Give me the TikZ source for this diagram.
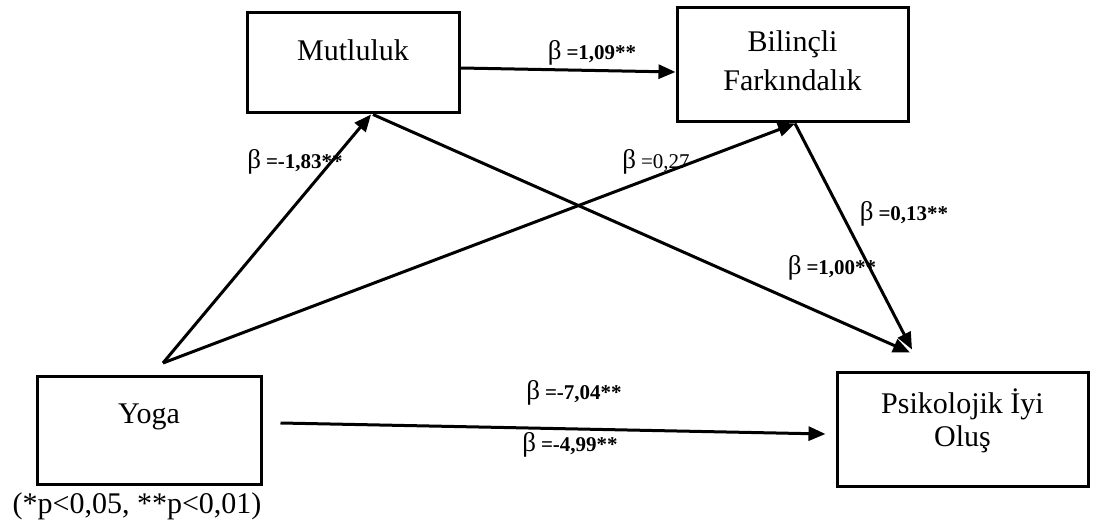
\documentclass[tikz,border=0pt]{standalone}
\usepackage{fontspec}
\setmainfont{Liberation Serif}
\usetikzlibrary{arrows.meta,calc}
\newcommand{\blab}[1]{{\fontsize{13.5}{14}\selectfont β} {\fontsize{10.5}{12}\selectfont\bfseries =#1}}
\newcommand{\blabreg}[1]{{\fontsize{13.5}{14}\selectfont β} {\fontsize{10.5}{12}\selectfont =#1}}
\begin{document}
\begin{tikzpicture}[x=0.5pt,y=-0.5pt,
  box/.style={draw=black, line width=1.5pt, inner sep=0pt},
  boxtext/.style={font=\fontsize{15}{19.5}\selectfont, align=center, inner sep=0pt},
  conn/.style={line width=1.5pt, -{Triangle[length=8.5pt,width=7pt]}},
  lab/.style={inner sep=0pt}]
\useasboundingbox (0,0) rectangle (1094,529);
% boxes
\node[box, minimum width=106pt, minimum height=50pt] (mut) at (353,63) {};
\node[box, minimum width=115.5pt, minimum height=57pt] (bil) at (792.5,65) {};
\node[box, minimum width=112pt, minimum height=54pt] (yoga) at (149,431) {};
\node[box, minimum width=125.5pt, minimum height=57pt] (psi) at (962.5,430) {};
% box texts
\node[boxtext] (mutt) at (353,50) {Mutluluk};
\node[boxtext] (bilt) at (792.5,61) {Bilinçli\\Farkındalık};
\node[boxtext] (yogat) at (149,417) {Yoga};
\node[boxtext, font=\fontsize{15}{16.5}\selectfont] (psit) at (962.5,421) {Psikolojik İyi\\Oluş};
% vertex
\coordinate (yv) at (163,363);
% connectors
\draw[conn] ([yshift=-2.5pt]mut.east) -- ([yshift=-3.5pt]bil.west);
\draw[conn] (yv) -- ([xshift=9pt]mut.south);
\draw[conn] (yv) -- ([xshift=1.25pt]bil.south);
\draw[conn] ([xshift=10pt]mut.south) -- ([shift={(-26.25pt,9.5pt)}]psi.north);
\draw[conn] ([xshift=1.25pt]bil.south) -- ([shift={(-25.25pt,11pt)}]psi.north);
\draw[conn] ([shift={(9pt,4pt)}]yoga.east) -- ([shift={(-5pt,-2pt)}]psi.west);
% labels
\node[lab] (l1) at (592,53) {\blab{1,09**}};
\node[lab] (l2) at (295,162) {\blab{-1,83**}};
\node[lab] (l3) at (656,162) {\blabreg{0,27}};
\node[lab] (l4) at (904,214) {\blab{0,13**}};
\node[lab] (l5) at (832,268) {\blab{1,00**}};
\node[lab] (l6) at (574,393) {\blab{-7,04**}};
\node[lab] (l7) at (570,445) {\blab{-4,99**}};
\node[lab, font=\fontsize{15}{18}\selectfont] (note) at (137,506) {(*p<0,05, **p<0,01)};
\end{tikzpicture}
\end{document}
